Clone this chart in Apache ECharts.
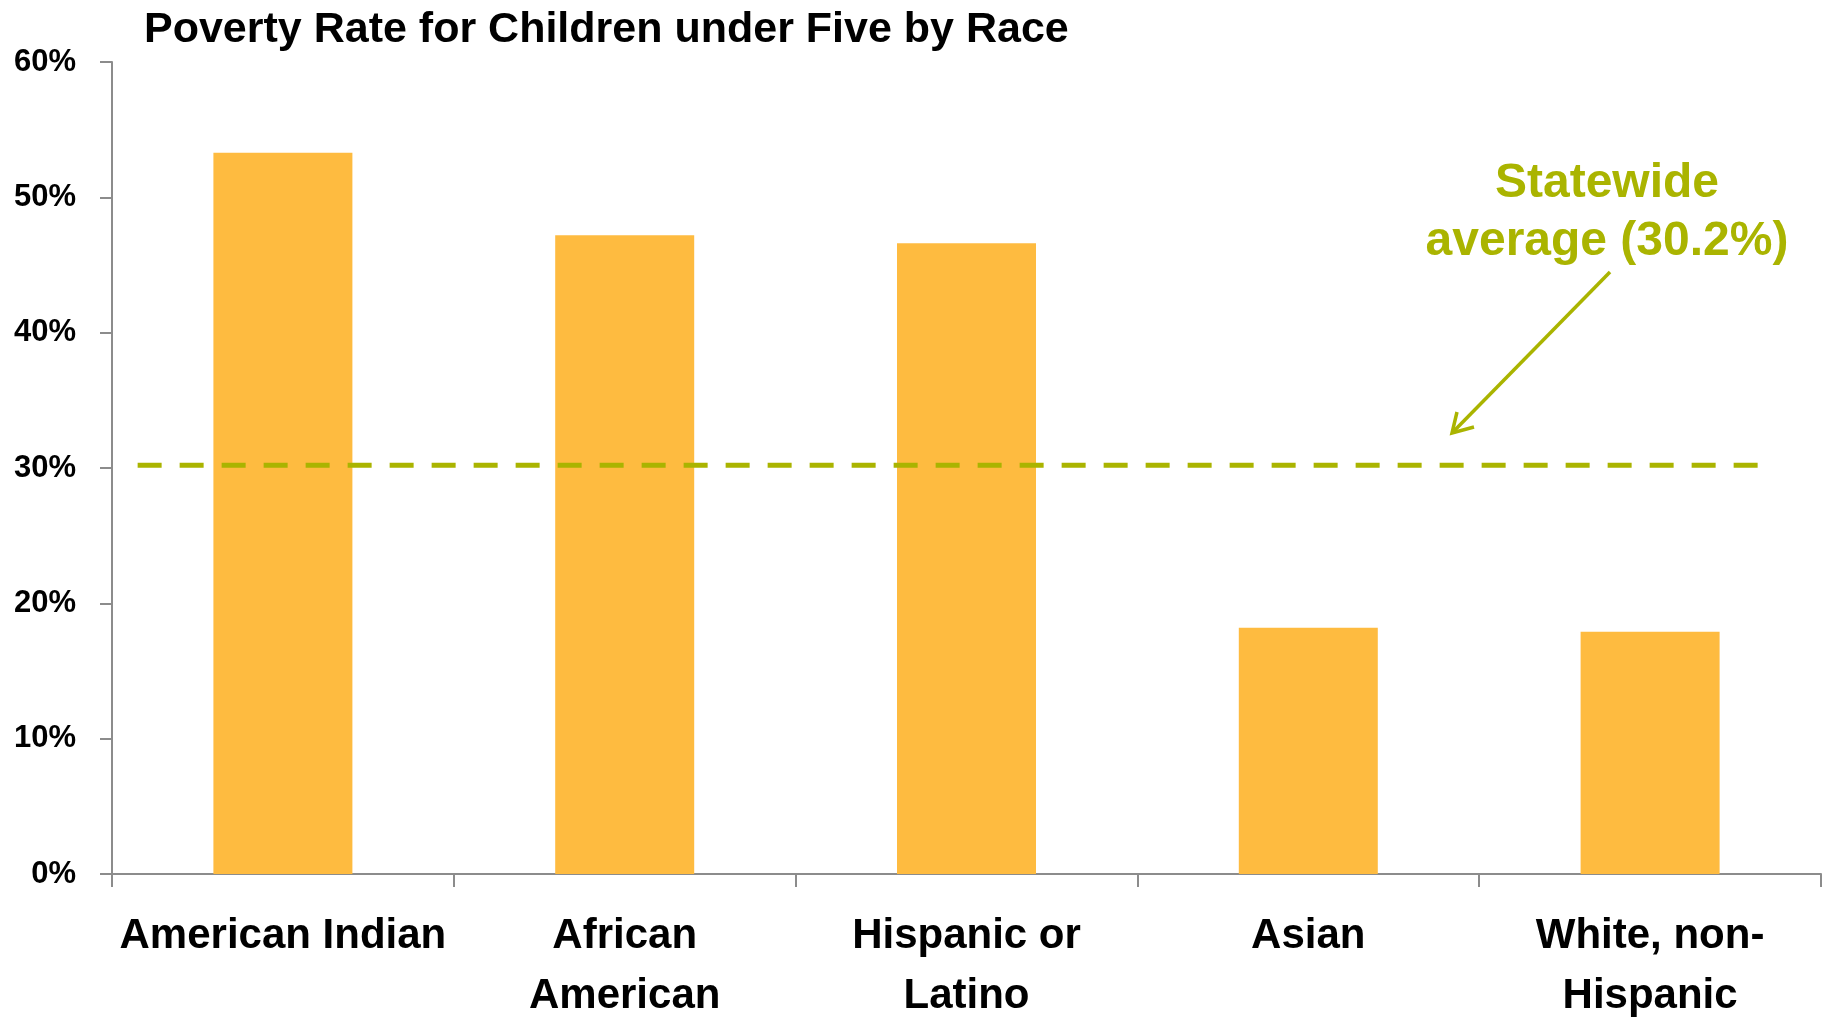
<!DOCTYPE html>
<html>
<head>
<meta charset="utf-8">
<script src="https://cdn.jsdelivr.net/npm/echarts@6/dist/echarts.min.js"></script>
<style>
html,body{margin:0;padding:0;background:#fff;}
#chart{width:1829px;height:1017px;}
</style>
</head>
<body>
<div id="chart"></div>
<script>
// ---- data ----
const categories = ['American Indian', 'African American', 'Hispanic or Latino', 'Asian', 'White, non-Hispanic'];
const tickLabels = ['American Indian', 'African\nAmerican', 'Hispanic or\nLatino', 'Asian', 'White, non-\nHispanic'];
const povertyRate = [53.3, 47.2, 46.6, 18.2, 17.9];
const statewideAverage = 30.2;
const averageLineSpan = [-0.425, 4.322]; // in category-index units
const yTicks = [0, 10, 20, 30, 40, 50, 60];
const titleText = 'Poverty Rate for Children under Five by Race';
const annotationText = 'Statewide\naverage (30.2%)';

const FONT = "'Liberation Sans', Arial, Helvetica, sans-serif";
const AXIS_COLOR = '#8c8c8c';
const OLIVE = '#aab400';

const chart = echarts.init(document.getElementById('chart'));
chart.setOption({
  animation: false,
  backgroundColor: '#fff',
  title: {
    text: titleText,
    left: 139,
    top: 4,
    textStyle: { fontFamily: FONT, fontWeight: 'bold', fontSize: 43, color: '#000' }
  },
  grid: { left: 112, right: 8, top: 62, bottom: 143, containLabel: false, outerBoundsMode: 'none' },
  xAxis: [{
    type: 'category',
    data: categories,
    boundaryGap: true,
    axisLine: { show: true, onZero: false, lineStyle: { color: AXIS_COLOR, width: 2 } },
    axisTick: { show: true, length: 13, interval: 0, alignWithLabel: false, lineStyle: { color: AXIS_COLOR, width: 2 } },
    axisLabel: {
      interval: 0,
      margin: 32,
      fontFamily: FONT, fontWeight: 'bold', fontSize: 42, lineHeight: 60, color: '#000',
      formatter: (v, i) => tickLabels[i]
    },
    splitLine: { show: false }
  }, {
    type: 'value',
    min: -0.5, max: 4.5,
    show: false
  }],
  yAxis: {
    type: 'value',
    min: yTicks[0], max: yTicks[yTicks.length - 1], interval: 10,
    axisLine: { show: true, onZero: false, lineStyle: { color: AXIS_COLOR, width: 2 } },
    axisTick: { show: true, length: 12, lineStyle: { color: AXIS_COLOR, width: 2 } },
    axisLabel: {
      margin: 36,
      fontFamily: FONT, fontWeight: 'bold', fontSize: 31, color: '#000',
      formatter: '{value}%'
    },
    splitLine: { show: false }
  },
  series: [{
    type: 'bar',
    data: povertyRate,
    barWidth: 139,
    itemStyle: { color: '#febb40' },
    z: 2
  }, {
    type: 'line',
    xAxisIndex: 1,
    data: averageLineSpan.map(x => [x, statewideAverage]),
    symbol: 'none',
    lineStyle: { color: OLIVE, width: 5, type: [24, 18], cap: 'butt' },
    z: 3
  }],
  graphic: [{
    type: 'text',
    x: 1607, y: 155,
    style: {
      text: annotationText,
      fill: OLIVE,
      fontFamily: FONT, fontWeight: 'bold', fontSize: 48,
      lineHeight: 58,
      align: 'center',
      verticalAlign: 'top'
    },
    z: 10
  }, {
    type: 'line',
    shape: { x1: 1610, y1: 272, x2: 1453, y2: 432 },
    style: { stroke: OLIVE, lineWidth: 3.5 },
    z: 10
  }, {
    type: 'polyline',
    shape: { points: [[1457, 412], [1452, 433], [1474, 427]] },
    style: { stroke: OLIVE, lineWidth: 3.5, fill: null, lineJoin: 'miter' },
    z: 10
  }]
});
</script>
</body>
</html>
